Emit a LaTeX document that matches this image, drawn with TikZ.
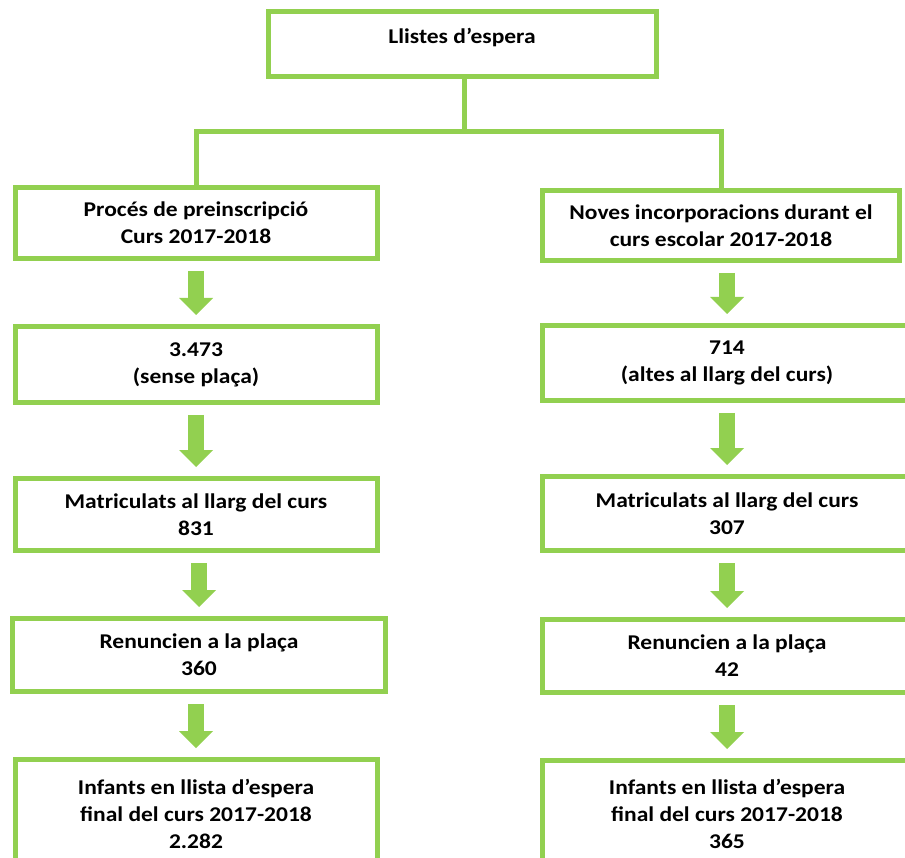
\documentclass[tikz,border=0pt]{standalone}
\usepackage{fontspec}
\setmainfont{Carlito}[FakeStretch=1.12]
\usepackage{tikz}
\usetikzlibrary{arrows.meta, positioning, calc}
\definecolor{boxgreen}{HTML}{92D050}

\begin{document}
\begin{tikzpicture}[
  x=1pt, y=-1pt,
  font=\fontsize{21}{27}\selectfont\bfseries,
  flowbox/.style={draw=boxgreen, line width=5pt, fill=white, align=center, inner sep=0pt},
  leftbox/.style={flowbox, minimum width=362pt},
  rightbox/.style={flowbox, minimum width=370pt},
  link/.style={draw=boxgreen, line width=5pt, line join=miter},
  flowarrow/.style={draw=boxgreen, line width=16pt, -{Triangle[width=34pt, length=17pt, line width=0pt]}, shorten <=10pt, shorten >=9pt}
]

\fill[white, use as bounding box] (0,0) rectangle (905,858);

% top
\node[flowbox, minimum width=388pt, minimum height=65pt, text depth=16pt] (lists) at (462,44) {Llistes d’espera};

% --- left column: preinscripcio ---
\node[leftbox, minimum height=71pt] (pre) at (196,223) {Procés de preinscripció\\Curs 2017-2018};
\node[leftbox, minimum height=76pt] (preA) at (196,364.5) {3.473\\(sense plaça)};
\node[leftbox, minimum height=72pt] (preB) at (196,514.5) {Matriculats al llarg del curs\\831};
\node[flowbox, minimum width=373pt, minimum height=73pt] (preC) at (199,655) {Renuncien a la plaça\\360};
\node[leftbox, minimum height=108pt] (preD) at (196,813.5) {Infants en llista d’espera\\final del curs 2017-2018\\2.282};

% --- right column: noves incorporacions ---
\node[flowbox, minimum width=357pt, minimum height=70pt] (new) at (721,225.5) {Noves incorporacions durant el\\curs escolar 2017-2018};
\node[rightbox, minimum height=75pt] (newA) at (727,363) {714\\(altes al llarg del curs)};
\node[rightbox, minimum height=74pt] (newB) at (727,513.5) {Matriculats al llarg del curs\\307};
\node[rightbox, minimum height=73pt] (newC) at (727,656) {Renuncien a la plaça\\42};
\node[rightbox, minimum height=107pt] (newD) at (727,814) {Infants en llista d’espera\\final del curs 2017-2018\\365};

% fork
\coordinate (fork) at (464,132);
\draw[link] (lists.south -| fork) -- (fork);
\draw[link] (pre.north) |- (fork) -| (new.north);

% arrows
\foreach \a/\b in {pre/preA, preA/preB, preB/preC, preC/preD, new/newA, newA/newB, newB/newC, newC/newD}{
  \draw[flowarrow] (\a.south -| \b.north) -- (\b.north);
}

\end{tikzpicture}
\end{document}
